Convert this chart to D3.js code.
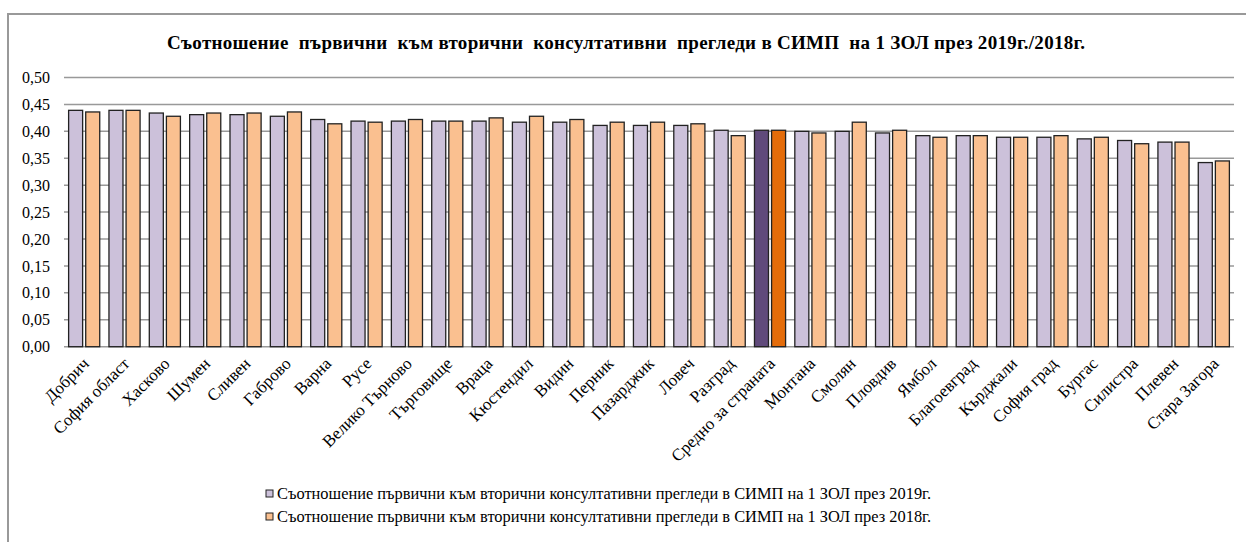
<!DOCTYPE html>
<html>
<head>
<meta charset="utf-8">
<script src="https://cdn.jsdelivr.net/npm/d3@7"></script>
<style>
  body { margin: 0; background: #fff; }
  svg text { font-family: "Liberation Serif", "Times New Roman", "DejaVu Serif", serif !important; }
</style>
</head>
<body>
<script>
// categories (regions) and the two series
const categories = ['Добрич', 'София област', 'Хасково', 'Шумен', 'Сливен', 'Габрово', 'Варна', 'Русе',
  'Велико Търново', 'Търговище', 'Враца', 'Кюстендил', 'Видин', 'Перник', 'Пазарджик', 'Ловеч', 'Разград',
  'Средно за страната', 'Монтана', 'Смолян', 'Пловдив', 'Ямбол', 'Благоевград', 'Кърджали', 'София град',
  'Бургас', 'Силистра', 'Плевен', 'Стара Загора'];

const values2019 = [0.439, 0.439, 0.434, 0.431, 0.431, 0.428, 0.422, 0.419, 0.419, 0.419, 0.419, 0.417, 0.417,
  0.411, 0.411, 0.411, 0.402, 0.402, 0.400, 0.400, 0.397, 0.392, 0.392, 0.389, 0.389, 0.386, 0.383, 0.380, 0.342];
const values2018 = [0.436, 0.439, 0.428, 0.434, 0.434, 0.436, 0.414, 0.417, 0.422, 0.419, 0.425, 0.428, 0.422,
  0.417, 0.417, 0.414, 0.392, 0.402, 0.397, 0.417, 0.402, 0.389, 0.392, 0.389, 0.392, 0.389, 0.377, 0.380, 0.345];

const yTicks = [0, 0.05, 0.10, 0.15, 0.20, 0.25, 0.30, 0.35, 0.40, 0.45, 0.50];
const seriesKeys = ['2019', '2018'];
const seriesNames = [
  'Съотношение първични към вторични консултативни прегледи в СИМП на 1 ЗОЛ през 2019г.',
  'Съотношение първични към вторични консултативни прегледи в СИМП на 1 ЗОЛ през 2018г.'
];
const title = 'Съотношение  първични  към вторични  консултативни  прегледи в СИМП  на 1 ЗОЛ през 2019г./2018г.';
const highlight = 'Средно за страната';

const colors = { '2019': '#ccc1da', '2018': '#fac090' };
const hiColors = { '2019': '#604a7b', '2018': '#e46c0a' };

const width = 1246, height = 542;
const svg = d3.select('body').append('svg')
  .attr('width', width)
  .attr('height', height);

// chart frame
svg.append('rect')
  .attr('x', 8).attr('y', 14)
  .attr('width', 1400).attr('height', 700)
  .attr('fill', 'none')
  .attr('stroke', '#999')
  .attr('stroke-width', 2);

svg.append('text')
  .attr('x', 626).attr('y', 49)
  .attr('text-anchor', 'middle')
  .style('white-space', 'pre')
  .attr('font-weight', 'bold')
  .attr('font-size', 19)
  .attr('textLength', 918)
  .attr('lengthAdjust', 'spacing')
  .text(title);

const x0 = d3.scaleBand().domain(categories).range([64, 1234]);
const x1 = d3.scaleBand().domain(seriesKeys).range([0, x0.bandwidth()])
  .paddingInner(0.18).paddingOuter(0.27);
const y = d3.scaleLinear().domain([0, 0.5]).range([346.7, 77.5]);

const fmt = d3.formatLocale({ decimal: ',', thousands: ' ', grouping: [3], currency: ['', ''] }).format('.2f');

// gridlines
svg.append('g')
  .selectAll('line')
  .data(yTicks)
  .enter()
  .append('line')
  .attr('x1', 64).attr('x2', 1234)
  .attr('y1', d => y(d)).attr('y2', d => y(d))
  .attr('stroke', '#999')
  .attr('stroke-width', 1.5);

// y axis labels
const yAxis = svg.append('g')
  .attr('transform', 'translate(56,0)')
  .call(d3.axisLeft(y).tickValues(yTicks).tickFormat(fmt).tickSize(0).tickPadding(6));
yAxis.select('.domain').remove();
yAxis.selectAll('text')
  .attr('font-size', 16)
  .attr('fill', '#000');

// bars
const groups = svg.append('g')
  .selectAll('g')
  .data(categories)
  .enter()
  .append('g')
  .attr('transform', d => 'translate(' + x0(d) + ',0)');

groups.selectAll('rect')
  .data((d, i) => seriesKeys.map((k, j) => ({
    cat: d, key: k, value: j === 0 ? values2019[i] : values2018[i]
  })))
  .enter()
  .append('rect')
  .attr('x', d => x1(d.key))
  .attr('y', d => y(d.value))
  .attr('width', x1.bandwidth())
  .attr('height', d => y(0) - y(d.value))
  .attr('fill', d => d.cat === highlight ? hiColors[d.key] : colors[d.key])
  .attr('stroke', '#222')
  .attr('stroke-width', 1.3);

// x axis
const xAxis = svg.append('g')
  .attr('transform', 'translate(0,' + y(0) + ')')
  .call(d3.axisBottom(x0).tickSize(0).tickPadding(0));
xAxis.select('.domain').remove();
xAxis.selectAll('text')
  .attr('font-size', 17)
  .attr('fill', '#000')
  .attr('text-anchor', 'end')
  .attr('dy', null)
  .attr('y', 0)
  .attr('transform', 'translate(6,18) rotate(-45)');

// legend
const legend = svg.append('g');
seriesKeys.forEach((k, i) => {
  const ly = 494 + i * 23;
  legend.append('rect')
    .attr('x', 266).attr('y', ly - 4)
    .attr('width', 7).attr('height', 7)
    .attr('fill', colors[k])
    .attr('stroke', '#222')
    .attr('stroke-width', 1);
  legend.append('text')
    .attr('x', 277).attr('y', ly + 5)
    .attr('font-size', 16.4)
    .text(seriesNames[i]);
});
</script>
</body>
</html>
